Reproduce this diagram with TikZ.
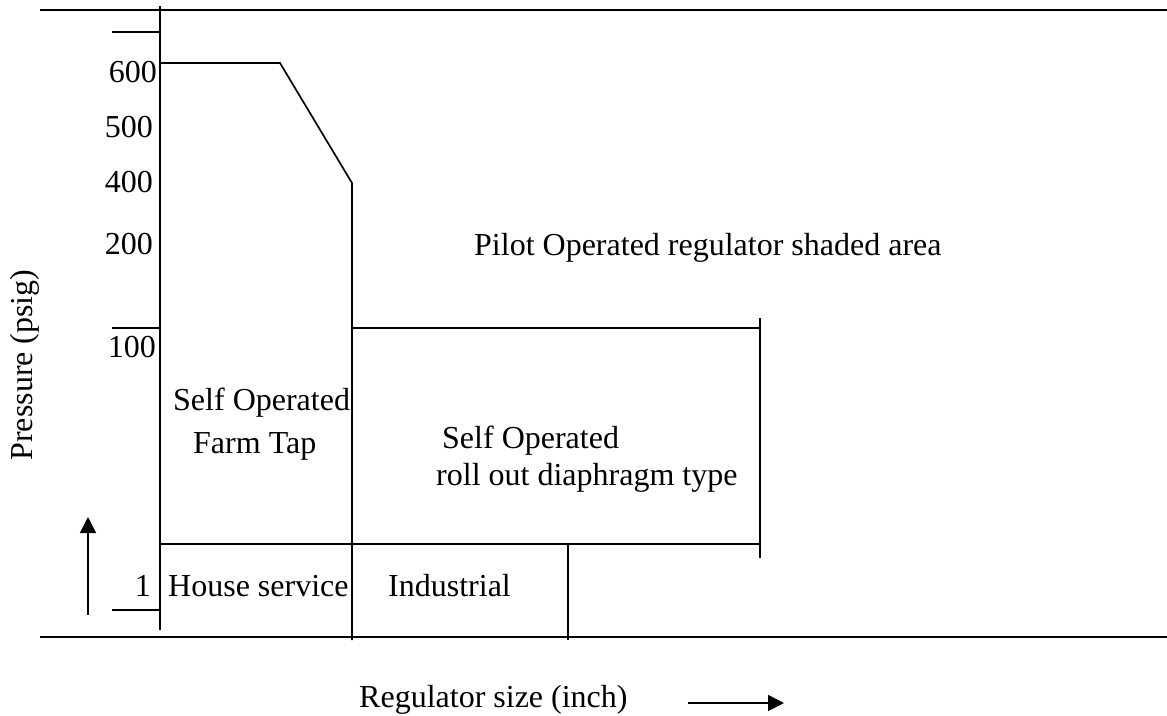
\documentclass[tikz,border=0pt]{standalone}
\usepackage{fontspec}
\setmainfont{Liberation Serif}
\usetikzlibrary{arrows.meta}
\begin{document}
\begin{tikzpicture}[x=1pt,y=-1pt,
  ln/.style={line width=1.7pt},
  lbl/.style={inner sep=0pt,font=\fontsize{32}{36}\selectfont},
  arr/.style={line width=1.7pt,-{Triangle[length=16pt,width=16pt]}}]
\useasboundingbox (0,0) rectangle (1167,715);
% frame lines
\draw[ln] (40,10) -- (1167,10);
\draw[ln] (40,637) -- (1167,637);
% vertical axis
\draw[ln] (160,6) -- (160,630);
% ticks
\draw[ln] (112,32) -- (160,32);
\draw[ln] (112,328) -- (160,328);
\draw[ln] (112,610) -- (160,610);
% farm tap envelope
\draw[ln] (160,63) -- (280,63) -- (352,183) -- (352,640);
% roll out diaphragm box
\draw[ln] (352,328) -- (760,328);
\draw[ln] (760,318) -- (760,558);
\draw[ln] (160,544) -- (760,544);
\draw[ln] (568,544) -- (568,640);
% axis labels
\node[lbl,anchor=base east] (p600) at (157,82) {600};
\node[lbl,anchor=base east] (p500) at (153,137) {500};
\node[lbl,anchor=base east] (p400) at (153,192) {400};
\node[lbl,anchor=base east] (p200) at (153,254) {200};
\node[lbl,anchor=base east] (p100) at (156,357) {100};
\node[lbl,anchor=base east] (p1) at (151,596) {1};
% region labels
\node[lbl,anchor=base west] (pilot) at (474,255) {Pilot Operated regulator shaded area};
\node[lbl,anchor=base west] (sofa) at (173,410) {Self Operated};
\node[lbl,anchor=base west] (farm) at (193,453) {Farm Tap};
\node[lbl,anchor=base west] (sorod) at (442,448) {Self Operated};
\node[lbl,anchor=base west] (rod) at (436,485) {roll out diaphragm type};
\node[lbl,anchor=base west] (house) at (168,596) {House service};
\node[lbl,anchor=base west] (indus) at (388,596) {Industrial};
% axis titles
\node[lbl,anchor=base west] (xtitle) at (359,707) {Regulator size (inch)};
\node[lbl,rotate=90,anchor=base] (ytitle) at (32,365) {Pressure (psig)};
% direction arrows
\coordinate (ua0) at (88,615);
\coordinate (ua1) at (88,517);
\draw[arr] (ua0) -- (ua1);
\coordinate (ra0) at (688,703);
\coordinate (ra1) at (784,703);
\draw[arr] (ra0) -- (ra1);
\end{tikzpicture}
\end{document}
